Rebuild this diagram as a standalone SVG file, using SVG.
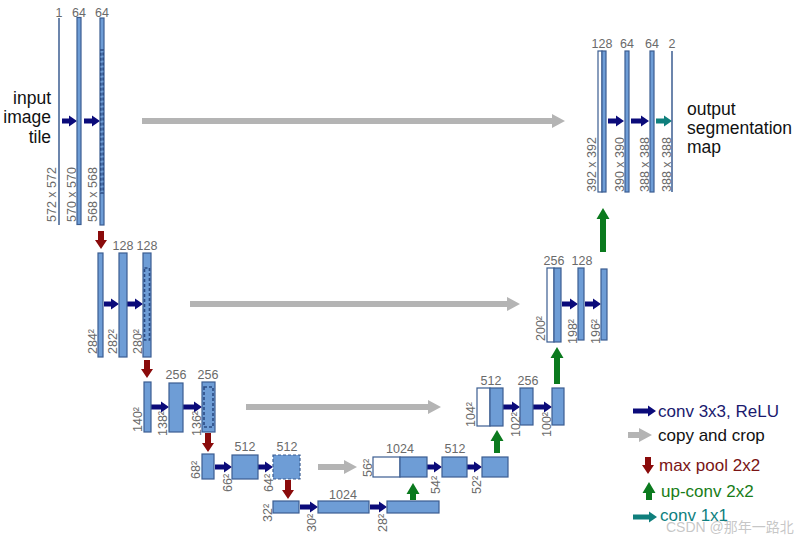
<svg xmlns="http://www.w3.org/2000/svg" width="799" height="538" viewBox="0 0 799 538">
<style>
text{font-family:"Liberation Sans",Arial,sans-serif}
.n{font-size:12.5px;fill:#6a6a6a;text-anchor:middle}
.r{font-size:12.5px;fill:#6a6a6a}
.b{fill:#6e9dd6;stroke:#3b5d91;stroke-width:1.2}
.w{fill:#ffffff;stroke:#3b5d91;stroke-width:1.2}
.d{fill:none;stroke:#2c4c84;stroke-width:1.6;stroke-dasharray:3 2}
.ln{stroke:#3b5d91;stroke-width:1.5}
.cv{fill:#0b0b7a}
.tl{fill:#0f7f7c}
.cp{fill:#b4b4b4}
.mp{fill:#8a0b0b}
.up{fill:#0b7a1e}
.big{font-size:17.5px;fill:#111}
.lg{font-size:17px}
</style>
<rect width="799" height="538" fill="#ffffff"/>

<g id="connectors">
<path class="cv" d="M62,118.5H69V115.5L77,121L69,126.5V123.5H62Z"/>
<path class="cv" d="M84,118.5H92V115.5L100,121L92,126.5V123.5H84Z"/>
<path class="cv" d="M104,301.5H111V298.5L119,304L111,309.5V306.5H104Z"/>
<path class="cv" d="M127,301.5H135V298.5L143,304L135,309.5V306.5H127Z"/>
<path class="cv" d="M151,404.5H161V401.5L169,407L161,412.5V409.5H151Z"/>
<path class="cv" d="M183,404.5H194V401.5L202,407L194,412.5V409.5H183Z"/>
<path class="cv" d="M215,464.5H224V461.5L232,467L224,472.5V469.5H215Z"/>
<path class="cv" d="M258,464.5H265V461.5L273,467L265,472.5V469.5H258Z"/>
<path class="cv" d="M300,504.5H310V501.5L318,507L310,512.5V509.5H300Z"/>
<path class="cv" d="M370,504.5H379V501.5L387,507L379,512.5V509.5H370Z"/>
<path class="cv" d="M427,464.5H434V461.5L442,467L434,472.5V469.5H427Z"/>
<path class="cv" d="M467,464.5H474V461.5L482,467L474,472.5V469.5H467Z"/>
<path class="cv" d="M503,404.5H512V401.5L520,407L512,412.5V409.5H503Z"/>
<path class="cv" d="M533,404.5H544V401.5L552,407L544,412.5V409.5H533Z"/>
<path class="cv" d="M562,301.5H570V298.5L578,304L570,309.5V306.5H562Z"/>
<path class="cv" d="M585,301.5H593V298.5L601,304L593,309.5V306.5H585Z"/>
<path class="cv" d="M608,118.5H616V115.5L624,121L616,126.5V123.5H608Z"/>
<path class="cv" d="M631,118.5H641V115.5L649,121L641,126.5V123.5H631Z"/>
<path class="tl" d="M656,118.5H664V115.5L672,121L664,126.5V123.5H656Z"/>
<path class="cp" d="M142,118H552V114L565,121L552,128V124H142Z"/>
<path class="cp" d="M190,301H507V297L520,304L507,311V307H190Z"/>
<path class="cp" d="M246,404H428V400L441,407L428,414V410H246Z"/>
<path class="cp" d="M318,464H344V460L357,467L344,474V470H318Z"/>
<path class="mp" d="M98,231V240H95L101,249L107,240H104V231Z"/>
<path class="mp" d="M144,360V369H141L147,378L153,369H150V360Z"/>
<path class="mp" d="M205,433V443H202L208,452L214,443H211V433Z"/>
<path class="mp" d="M285,480V490H282L288,499L294,490H291V480Z"/>
<path class="up" d="M410,500V494H406.5L413,483L419.5,494H416V500Z"/>
<path class="up" d="M494,453V441H490.5L497,430L503.5,441H500V453Z"/>
<path class="up" d="M554,384V358H550.5L557,347L563.5,358H560V384Z"/>
<path class="up" d="M600,252V219H596.5L603,208L609.5,219H606V252Z"/>
</g>

<g id="input-text">
<text class="big" x="51" y="104" text-anchor="end">input</text>
<text class="big" x="51" y="123" text-anchor="end">image</text>
<text class="big" x="51" y="143" text-anchor="end">tile</text>
</g>

<g id="enc1">
<line class="ln" x1="59" y1="18" x2="59" y2="225"/>
<rect class="b" x="77" y="17.5" width="4" height="207"/>
<rect class="b" x="100" y="18" width="4" height="207"/>
<rect class="d" x="100.8" y="50" width="2.4" height="143"/>
<text class="n" x="59" y="17">1</text>
<text class="n" x="79" y="17">64</text>
<text class="n" x="102" y="17">64</text>
<text class="r" transform="translate(56,222) rotate(-90)">572 x 572</text>
<text class="r" transform="translate(76,222) rotate(-90)">570 x 570</text>
<text class="r" transform="translate(97,222) rotate(-90)">568 x 568</text>
</g>

<g id="enc2">
<rect class="b" x="98" y="253" width="5" height="104"/>
<rect class="b" x="119" y="253" width="8" height="104"/>
<rect class="b" x="143" y="253" width="8" height="104"/>
<rect class="d" x="144.5" y="268" width="5" height="72"/>
<text class="n" x="123" y="250">128</text>
<text class="n" x="147" y="250">128</text>
<text class="r" transform="translate(97,354) rotate(-90)">284²</text>
<text class="r" transform="translate(117,354) rotate(-90)">282²</text>
<text class="r" transform="translate(142,354) rotate(-90)">280²</text>
</g>

<g id="enc3">
<rect class="b" x="144" y="382" width="7" height="50"/>
<rect class="b" x="169" y="383" width="14" height="49"/>
<rect class="b" x="202" y="382" width="13" height="50"/>
<rect class="d" x="204" y="387" width="9" height="40"/>
<text class="n" x="176" y="379">256</text>
<text class="n" x="208" y="379">256</text>
<text class="r" transform="translate(142,432) rotate(-90)">140²</text>
<text class="r" transform="translate(167,436) rotate(-90)">138²</text>
<text class="r" transform="translate(201,436) rotate(-90)">136²</text>
</g>

<g id="enc4">
<rect class="b" x="202" y="454" width="12" height="25"/>
<rect class="b" x="232" y="455" width="26" height="24"/>
<rect class="b" x="273" y="455" width="27" height="24" stroke="#2c4c84" stroke-width="1.6" stroke-dasharray="3 2"/>
<text class="n" x="245" y="451">512</text>
<text class="n" x="287" y="451">512</text>
<text class="r" transform="translate(200,479) rotate(-90)">68²</text>
<text class="r" transform="translate(232,492) rotate(-90)">66²</text>
<text class="r" transform="translate(273,492) rotate(-90)">64²</text>
</g>

<g id="bottleneck">
<rect class="b" x="273" y="501" width="26" height="12"/>
<rect class="b" x="318" y="501" width="51" height="12"/>
<rect class="b" x="387" y="501" width="52" height="12"/>
<text class="n" x="343" y="499">1024</text>
<text class="r" transform="translate(272,522) rotate(-90)">32²</text>
<text class="r" transform="translate(316,532) rotate(-90)">30²</text>
<text class="r" transform="translate(387,532) rotate(-90)">28²</text>
</g>

<g id="dec4">
<rect class="w" x="373" y="457" width="27" height="20"/>
<rect class="b" x="400" y="457" width="27" height="20"/>
<rect class="b" x="442" y="457" width="25" height="20"/>
<rect class="b" x="482" y="457" width="26" height="20"/>
<text class="n" x="400" y="453">1024</text>
<text class="n" x="455" y="453">512</text>
<text class="r" transform="translate(372,477) rotate(-90)">56²</text>
<text class="r" transform="translate(440,494) rotate(-90)">54²</text>
<text class="r" transform="translate(481,494) rotate(-90)">52²</text>
</g>

<g id="dec3">
<rect class="w" x="477" y="388" width="13" height="38"/>
<rect class="b" x="490" y="388" width="13" height="38"/>
<rect class="b" x="520" y="388" width="13" height="37"/>
<rect class="b" x="552" y="388" width="12" height="37"/>
<text class="n" x="491" y="385">512</text>
<text class="n" x="528" y="385">256</text>
<text class="r" transform="translate(475,427) rotate(-90)">104²</text>
<text class="r" transform="translate(520,437) rotate(-90)">102²</text>
<text class="r" transform="translate(551,437) rotate(-90)">100²</text>
</g>

<g id="dec2">
<rect class="w" x="547" y="268" width="7" height="74"/>
<rect class="b" x="554" y="268" width="7" height="74"/>
<rect class="b" x="578" y="268" width="6" height="72"/>
<rect class="b" x="601" y="269" width="6" height="71"/>
<text class="n" x="554" y="265">256</text>
<text class="n" x="582" y="265">128</text>
<text class="r" transform="translate(545,341) rotate(-90)">200²</text>
<text class="r" transform="translate(577,344) rotate(-90)">198²</text>
<text class="r" transform="translate(600,344) rotate(-90)">196²</text>
</g>

<g id="dec1">
<rect class="w" x="598" y="51" width="4" height="141"/>
<rect class="b" x="602" y="51" width="4" height="141"/>
<rect class="b" x="625" y="51" width="4" height="141"/>
<rect class="b" x="650" y="51" width="4" height="141"/>
<line class="ln" x1="672" y1="51" x2="672" y2="192"/>
<text class="n" x="602" y="48">128</text>
<text class="n" x="627" y="48">64</text>
<text class="n" x="652" y="48">64</text>
<text class="n" x="672" y="48">2</text>
<text class="r" transform="translate(596,192) rotate(-90)">392 x 392</text>
<text class="r" transform="translate(624,192) rotate(-90)">390 x 390</text>
<text class="r" transform="translate(649,192) rotate(-90)">388 x 388</text>
<text class="r" transform="translate(671,192) rotate(-90)">388 x 388</text>
</g>

<g id="output-text">
<text class="big" x="687" y="115">output</text>
<text class="big" x="687" y="134">segmentation</text>
<text class="big" x="687" y="153">map</text>
</g>

<g id="legend">
<path class="cv" d="M633,408.5H648V405.5L656,411L648,416.5V413.5H633Z"/>
<text class="lg" x="658" y="417" fill="#1a1a6e">conv 3x3, ReLU</text>
<path class="cp" d="M628,432H639V428L652,435L639,442V438H628Z"/>
<text class="lg" x="658" y="441" fill="#111111">copy and crop</text>
<path class="mp" d="M645,457V465H642L648,474L654,465H651V457Z"/>
<text class="lg" x="659" y="471" fill="#7a1414">max pool 2x2</text>
<path class="up" d="M646,500V493H642.5L649,482L655.5,493H652V500Z"/>
<text class="lg" x="661" y="497" fill="#187d18">up-conv 2x2</text>
<path class="tl" d="M633,514.5H649V511.5L657,517L649,522.5V519.5H633Z"/>
<text class="lg" x="660" y="521" fill="#0f7f7f">conv 1x1</text>
<text x="666" y="532" font-size="14" fill="#bdbdbd" fill-opacity="0.85" style="font-family:'Liberation Sans','Noto Sans CJK SC',sans-serif">CSDN @那年一路北</text>
</g>
</svg>
